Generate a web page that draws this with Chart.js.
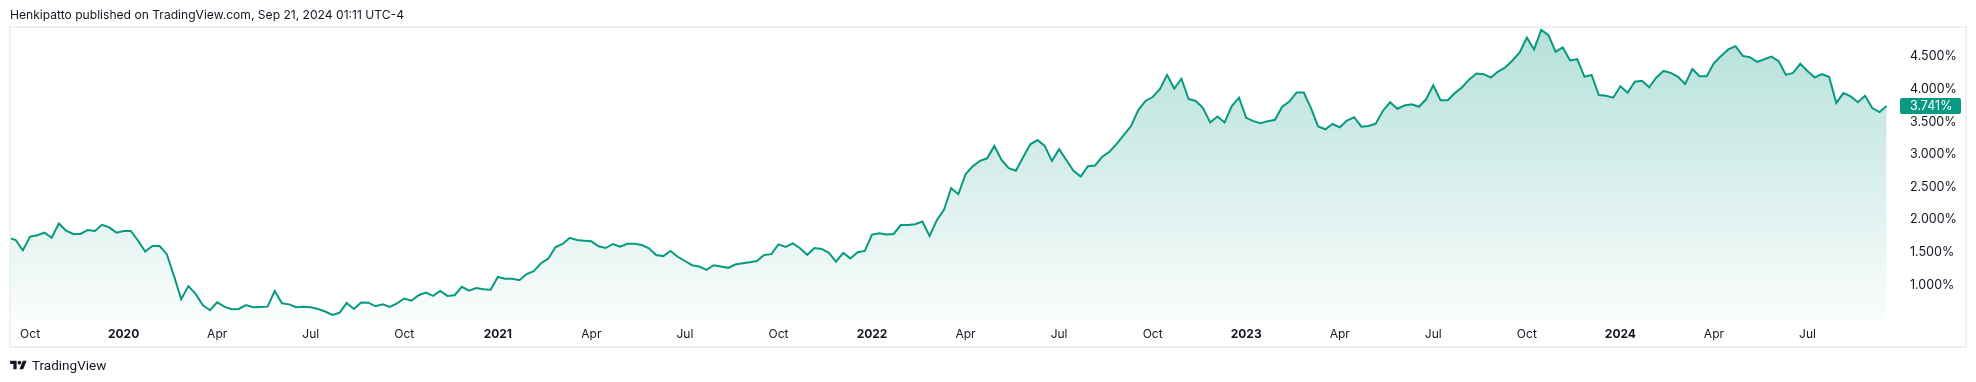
<!DOCTYPE html>
<html><head><meta charset="utf-8">
<script src="https://cdn.jsdelivr.net/npm/chart.js@4.4.1/dist/chart.umd.min.js"></script>
<style>
html,body{margin:0;padding:0;background:#fff;}
#wrap{position:relative;width:1976px;height:382px;overflow:hidden;}
#hdr{position:absolute;left:10px;top:8px;font-family:Inter,Roboto,sans-serif;font-size:12.1px;line-height:14px;color:#131722;white-space:nowrap;}
#ftr{position:absolute;left:10px;top:358px;height:15px;display:flex;align-items:center;font-family:Roboto,sans-serif;font-size:13.5px;line-height:15px;color:#131722;}
canvas{position:absolute;left:0;top:0;}
</style></head><body>
<div id="wrap"><canvas id="c" width="1976" height="382"></canvas>
<div id="hdr">Henkipatto published on TradingView.com, Sep 21, 2024 01:11 UTC-4</div>
<div id="ftr"><svg width="17" height="13" viewBox="0 0 36 28"><path fill="#131722" d="M14 22H7V11H0V4h14v18zM28 22h-8l7.5-18h8L28 22z"/><circle fill="#131722" cx="20" cy="8" r="4"/></svg><span style="margin-left:5px">TradingView</span></div>
</div>
<script>
// Weekly closes (%), week of Sep 16 2019 .. week of Sep 16 2024
const y2019 = [1.72,1.687,1.53,1.74,1.76,1.80,1.72,1.94,1.83,1.78,1.78,1.84,1.825,1.92,1.88,1.80];
const y2020 = [1.825,1.825,1.68,1.51,1.595,1.595,1.47,1.135,0.78,0.98,
  0.86,0.69,0.61,0.73,0.665,0.625,0.63,0.69,0.655,0.66,
  0.665,0.905,0.716,0.70,0.655,0.665,0.655,0.63,0.59,0.537,
  0.57,0.72,0.63,0.73,0.725,0.67,0.70,0.66,0.716,0.79,
  0.756,0.84,0.88,0.83,0.905,0.83,0.84,0.97,0.91,0.95,
  0.93,0.925];
const y2021 = [1.12,1.094,1.094,1.07,1.165,1.21,1.33,1.40,1.575,1.626,
  1.72,1.687,1.676,1.667,1.59,1.564,1.626,1.585,1.63,1.63,
  1.61,1.56,1.457,1.44,1.52,1.43,1.365,1.30,1.28,1.23,
  1.30,1.28,1.26,1.31,1.33,1.345,1.365,1.457,1.47,1.62,
  1.58,1.636,1.56,1.46,1.564,1.55,1.49,1.354,1.49,1.405,
  1.50,1.52];
const y2022 = [1.77,1.79,1.77,1.78,1.917,1.917,1.93,1.97,1.75,1.99,
  2.15,2.48,2.39,2.695,2.82,2.90,2.94,3.13,2.914,2.79,
  2.75,2.955,3.155,3.22,3.13,2.90,3.08,2.914,2.75,2.66,
  2.82,2.83,2.965,3.04,3.16,3.30,3.435,3.68,3.82,3.88,
  4.00,4.22,4.01,4.16,3.85,3.82,3.71,3.49,3.58,3.49,
  3.74,3.87];
const y2023 = [3.56,3.51,3.48,3.51,3.53,3.73,3.81,3.95,3.95,3.71,
  3.43,3.385,3.466,3.415,3.52,3.57,3.425,3.435,3.47,3.67,
  3.80,3.70,3.75,3.77,3.73,3.845,4.06,3.83,3.83,3.94,
  4.03,4.15,4.24,4.23,4.18,4.27,4.335,4.44,4.565,4.79,
  4.61,4.91,4.83,4.575,4.64,4.44,4.46,4.19,4.22,3.91,
  3.90,3.87];
const y2024 = [4.045,3.946,4.115,4.13,4.03,4.18,4.28,4.25,4.19,4.08,
  4.31,4.20,4.20,4.40,4.51,4.61,4.66,4.51,4.49,4.42,
  4.46,4.50,4.43,4.22,4.25,4.39,4.28,4.18,4.23,4.19,
  3.79,3.94,3.89,3.80,3.90,3.71,3.65,3.741];

// Time-axis labels and the week index (from Sep 16 2019) they sit on
const tickLabels = ['Oct','2020','Apr','Jul','Oct','2021','Apr','Jul','Oct','2022','Apr','Jul','Oct','2023','Apr','Jul','Oct','2024','Apr','Jul'];
const tickWeeks  = [3,16,29,42,55,68,81,94,107,120,133,146,159,172,185,198,211,224,237,250];
// Price-axis labels
const priceTicks = [1.0,1.5,2.0,2.5,3.0,3.5,4.0,4.5];

const values = [].concat(y2019, y2020, y2021, y2022, y2023, y2024);
const points = values.map((v, i) => ({ x: i, y: v }));
const lastValue = values[values.length - 1];

const GREEN = '#089981';
const TEXT = '#131722';
const FONT = 'Inter, Roboto, sans-serif';

const framePlugin = {
  id: 'frame',
  afterDraw(chart) {
    const c = chart.ctx;
    c.save();
    c.strokeStyle = '#eef0f4';
    c.lineWidth = 2;
    c.strokeRect(10, 27, 1956, 320);
    c.restore();
  }
};

const lastPlugin = {
  id: 'lastBadge',
  afterDraw(chart) {
    const c = chart.ctx;
    const y = Math.round(chart.scales.y.getPixelForValue(lastValue));
    c.save();
    c.fillStyle = GREEN;
    c.beginPath();
    if (c.roundRect) c.roundRect(1900, y - 8, 61, 16, 2); else c.rect(1900, y - 8, 61, 16);
    c.fill();
    c.fillStyle = '#ffffff';
    c.font = '12.5px ' + FONT;
    c.textBaseline = 'middle';
    c.textAlign = 'left';
    c.fillText(lastValue.toFixed(3) + '%', 1910, y + 0.5);
    c.restore();
  }
};

new Chart(document.getElementById('c'), {
  type: 'line',
  data: {
    datasets: [{
      data: points,
      borderColor: GREEN,
      borderWidth: 2,
      pointRadius: 0,
      tension: 0,
      fill: 'start',
      backgroundColor(ctx) {
        const ch = ctx.chart, a = ch.chartArea;
        if (!a) return 'rgba(8,153,129,0.1)';
        const g = ch.ctx.createLinearGradient(0, a.top, 0, a.bottom);
        g.addColorStop(0, 'rgba(8,153,129,0.30)');
        g.addColorStop(1, 'rgba(8,153,129,0.02)');
        return g;
      }
    }]
  },
  options: {
    responsive: false,
    animation: false,
    devicePixelRatio: 1,
    layout: { padding: { left: 10, right: 10, top: 27, bottom: 35 } },
    plugins: { legend: { display: false }, tooltip: { enabled: false } },
    scales: {
      x: {
        type: 'linear', min: 0.21, max: 262.3,
        grid: { display: false, drawTicks: false },
        border: { display: false },
        afterBuildTicks(s) { s.ticks = tickWeeks.map(v => ({ value: v })); },
        afterFit(s) { s.height = 27; },
        ticks: {
          autoSkip: false, maxRotation: 0, minRotation: 0, padding: 7, color: TEXT,
          font(ctx) {
            const lab = tickLabels[ctx.index] || '';
            return { family: FONT, size: 12, weight: /^\d{4}$/.test(lab) ? 'bold' : 'normal' };
          },
          callback(v) { const k = tickWeeks.indexOf(v); return k >= 0 ? tickLabels[k] : ''; }
        }
      },
      y: {
        position: 'right', min: 0.46, max: 4.954,
        grid: { display: false, drawTicks: false },
        border: { display: false },
        afterBuildTicks(s) { s.ticks = priceTicks.map(v => ({ value: v })); },
        afterFit(s) { s.width = 70; },
        ticks: {
          padding: 14, color: TEXT, font: { family: FONT, size: 12.5 },
          callback(v) { return Number(v).toFixed(3) + '%'; }
        }
      }
    }
  },
  plugins: [framePlugin, lastPlugin]
});
</script>
</body></html>
